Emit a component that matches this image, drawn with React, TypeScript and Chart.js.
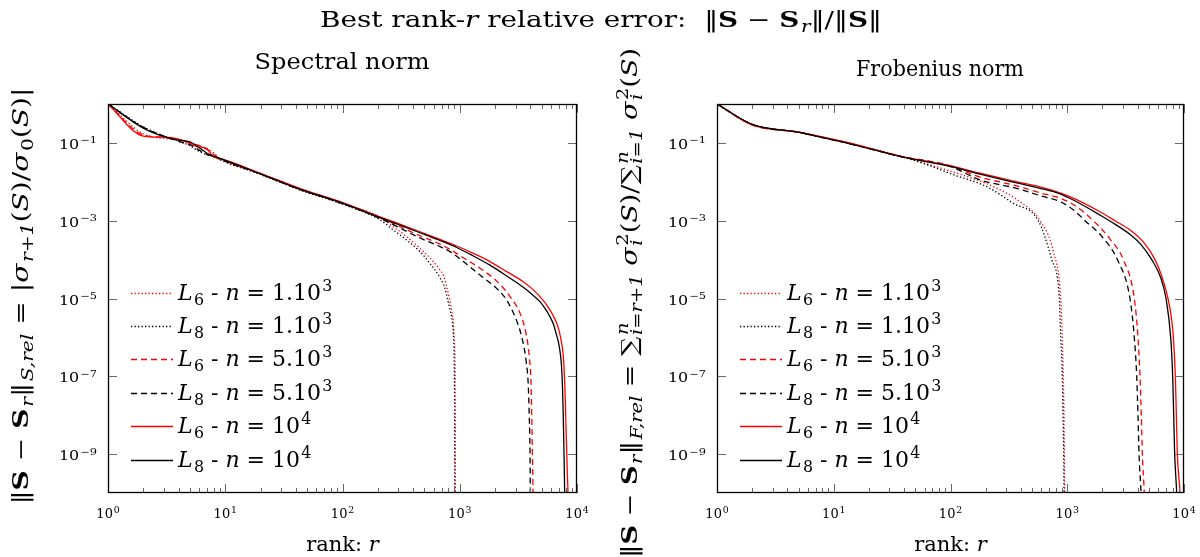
import React, { useEffect, useRef } from "react";
import { Chart, registerables } from "chart.js";
Chart.register(...registerables);

// ---------------- DATA ----------------
// Spectral norm panel
const specL6n1kRank = [1, 2, 3, 4, 5, 6, 7, 8, 9, 20, 43, 95, 209, 271, 352, 458, 595, 679, 724, 774, 815, 853, 881, 893, 906, 912, 914, 916, 918];
const specL6n1kErr = [1, 0.17, 0.13, 0.12, 0.1, 0.085, 0.07, 0.055, 0.04, 0.016, 0.0065, 2.9e-3, 1.23e-3, 7.0e-4, 3.9e-4, 1.95e-4, 8.9e-5, 5.4e-5, 4e-5, 2e-5, 1.02e-5, 5e-6, 2.5e-6, 1.27e-6, 4.8e-7, 1.2e-7, 9.1e-9, 1.2e-10, 1e-11];
const specL8n1kRank = [1, 2, 3, 4, 5, 6, 7, 8, 9, 20, 43, 95, 209, 271, 352, 458, 557, 679, 748, 826, 865, 881, 893, 899, 906, 908];
const specL8n1kErr = [1, 0.26, 0.15, 0.11, 0.085, 0.06, 0.05, 0.045, 0.037, 0.0155, 0.0062, 2.8e-3, 1.05e-3, 5.8e-4, 3.2e-4, 1.6e-4, 8e-5, 3.4e-5, 1.82e-5, 5e-6, 2.5e-6, 1.27e-6, 4.8e-7, 1.2e-7, 3.4e-9, 1e-11];
const specL6n5kRank = [1, 2, 3, 4, 5, 6, 7, 8, 9, 20, 43, 95, 209, 458, 679, 826, 1072, 1489, 2065, 2685, 3266, 3673, 3917, 4055, 4111, 4159, 4217, 4240];
const specL6n5kErr = [1, 0.16, 0.14, 0.12, 0.1, 0.085, 0.068, 0.05, 0.04, 0.0162, 0.0066, 3.0e-3, 1.2e-3, 4.1e-4, 2.5e-4, 1.83e-4, 1.12e-4, 6.0e-5, 2.8e-5, 1.12e-5, 4.2e-6, 1.27e-6, 3.2e-7, 6.6e-8, 9.1e-9, 1.28e-9, 9.8e-11, 1e-11];
const specL8n5kRank = [1, 2, 3, 4, 5, 6, 7, 8, 9, 20, 43, 95, 209, 458, 679, 826, 1072, 1489, 2065, 2512, 2958, 3373, 3673, 3846, 3917, 3972, 4000, 4020];
const specL8n5kErr = [1, 0.25, 0.15, 0.11, 0.09, 0.065, 0.05, 0.045, 0.038, 0.0158, 0.0064, 2.9e-3, 1.15e-3, 3.6e-4, 2.15e-4, 1.6e-4, 8.9e-5, 4e-5, 1.82e-5, 9.1e-6, 3.4e-6, 1.05e-6, 2.6e-7, 5.4e-8, 9.1e-9, 1.28e-9, 9.8e-11, 1e-11];
const specL6n10kRank = [1, 2, 3, 4, 5, 5.7, 6.9, 7.9, 9, 20, 43, 95, 209, 458, 679, 942, 1306, 1811, 2512, 3483, 4102, 4831, 5333, 5888, 6285, 6714, 7063, 7396, 7600, 7745, 7853, 7950, 8055, 8166, 8267, 8375, 8450];
const specL6n10kErr = [1, 0.15, 0.14, 0.125, 0.098, 0.08, 0.072, 0.044, 0.04, 0.0166, 0.0068, 3.1e-3, 1.26e-3, 5.2e-4, 3.3e-4, 2.24e-4, 1.45e-4, 8.9e-5, 4.9e-5, 2.7e-5, 1.82e-5, 1.12e-5, 7.8e-6, 5.0e-6, 3.55e-6, 2.3e-6, 1.4e-6, 7.1e-7, 3.9e-7, 1.8e-7, 6.6e-8, 2.45e-8, 5e-9, 1.28e-9, 3.2e-10, 9.8e-11, 1e-11];
const specL8n10kRank = [1, 2, 3, 4, 5, 6, 7.4, 9, 20, 43, 95, 209, 458, 679, 942, 1306, 1811, 2512, 3483, 4102, 4831, 5333, 5888, 6285, 6630, 6970, 7200, 7380, 7520, 7600, 7690, 7770, 7850, 7920];
const specL8n10kErr = [1, 0.24, 0.145, 0.118, 0.107, 0.075, 0.049, 0.04, 0.016, 0.0065, 3.0e-3, 1.2e-3, 4.9e-4, 3.1e-4, 2.05e-4, 1.24e-4, 7.2e-5, 3.8e-5, 1.94e-5, 1.3e-5, 8.3e-6, 5.6e-6, 3.4e-6, 2.2e-6, 1.27e-6, 7.1e-7, 3.9e-7, 1.8e-7, 5.4e-8, 1.65e-8, 3.4e-9, 7e-10, 9.8e-11, 1e-11];

// Frobenius norm panel
const frobL6n1kRank = [1, 2, 5.14, 7.6, 13.8, 36.9, 60, 120, 233, 394, 585, 760, 879, 907, 925, 938, 944, 951, 960];
const frobL6n1kErr = [1, 0.29, 0.187, 0.145, 0.098, 0.046, 0.03, 0.0158, 7.5e-3, 3.1e-3, 1e-3, 1.6e-4, 1e-5, 1e-6, 1e-7, 1e-8, 1e-9, 1e-10, 1e-11];
const frobL8n1kRank = [1, 2, 5.14, 7.6, 13.8, 36.9, 60, 106, 204, 345, 565, 736, 855, 879, 907, 920, 933, 938, 945];
const frobL8n1kErr = [1, 0.3, 0.185, 0.142, 0.095, 0.045, 0.029, 0.0152, 7.5e-3, 2.8e-3, 1e-3, 1e-4, 1e-5, 1e-6, 1e-7, 1e-8, 1e-9, 1e-10, 1e-11];
const frobL6n5kRank = [1, 2, 5.14, 7.6, 13.8, 36.9, 99, 179, 369, 585, 867, 1127, 1672, 2300, 3020, 3753, 4035, 4200, 4310, 4400, 4570, 4700];
const frobL6n5kErr = [1, 0.29, 0.187, 0.145, 0.097, 0.046, 0.026, 0.0132, 7.9e-3, 5.2e-3, 3.8e-3, 2.6e-3, 1e-3, 3.5e-4, 1e-4, 1e-5, 1e-6, 1e-7, 1e-8, 1e-9, 1e-10, 1e-11];
const frobL8n5kRank = [1, 2, 5.14, 7.6, 13.8, 36.9, 99, 179, 369, 585, 867, 1127, 1420, 2000, 2685, 3445, 3753, 3935, 4035, 4120, 4285, 4400];
const frobL8n5kErr = [1, 0.3, 0.185, 0.142, 0.095, 0.045, 0.025, 0.0112, 6.8e-3, 4.4e-3, 3.1e-3, 1.9e-3, 1e-3, 3.8e-4, 1e-4, 1e-5, 1e-6, 1e-7, 1e-8, 1e-9, 1e-10, 1e-11];
const frobL6n10kRank = [1, 2, 5.14, 7.6, 13.8, 36.9, 99, 179, 369, 585, 867, 1127, 1905, 2565, 3500, 4500, 5650, 6500, 7295, 7800, 8110, 8430, 8600, 8770, 9240, 9500];
const frobL6n10kErr = [1, 0.29, 0.187, 0.146, 0.098, 0.046, 0.026, 0.0166, 0.01, 7.4e-3, 5.2e-3, 3.8e-3, 1.7e-3, 1e-3, 5.6e-4, 2.8e-4, 1e-4, 3.5e-5, 1e-5, 3.2e-6, 1e-6, 1e-7, 1e-8, 1e-9, 1e-10, 1e-11];
const frobL8n10kRank = [1, 2, 5.14, 7.6, 13.8, 36.9, 99, 179, 369, 585, 867, 1127, 1905, 2355, 3500, 4300, 5290, 6300, 7015, 7690, 8000, 8160, 8320, 8660, 8900];
const frobL8n10kErr = [1, 0.3, 0.185, 0.142, 0.095, 0.045, 0.025, 0.0158, 9.4e-3, 6.8e-3, 4.9e-3, 3.4e-3, 1.4e-3, 9.5e-4, 4.3e-4, 2.4e-4, 1e-4, 3.5e-5, 1e-5, 1e-6, 1e-7, 1e-8, 1e-9, 1e-10, 1e-11];

// Axes / ticks / legend labels
const xMajorTicks = [1, 10, 100, 1000, 10000];
const xTickExps = ["0", "1", "2", "3", "4"];
const yMajorTicks = [1e-1, 1e-3, 1e-5, 1e-7, 1e-9];
const yTickExps = ["−1", "−3", "−5", "−7", "−9"];
const legendL = ["6", "8", "6", "8", "6", "8"];
const legendN = ["1.10", "1.10", "5.10", "5.10", "10", "10"];
const legendExp = ["3", "3", "3", "3", "4", "4"];

// ---------------- rich text helpers ----------------
type Seg = { t: string; f?: "r" | "i" | "b"; sub?: string; sup?: string; subF?: "r" | "i"; supF?: "r" | "i" };
const FAMILY = '"DejaVu Serif", "Liberation Serif", serif';
const SCRIPT = 0.72;
function fnt(f: string | undefined, size: number) {
  return `${f === "i" ? "italic " : ""}${f === "b" ? "bold " : ""}${size}px ${FAMILY}`;
}
function richWidth(ctx: CanvasRenderingContext2D, segs: Seg[], size: number) {
  let w = 0;
  for (const s of segs) {
    ctx.font = fnt(s.f, size);
    w += ctx.measureText(s.t).width;
    let sw = 0;
    if (s.sub) { ctx.font = fnt(s.subF ?? "i", size * SCRIPT); sw = Math.max(sw, ctx.measureText(s.sub).width); }
    if (s.sup) { ctx.font = fnt(s.supF ?? "r", size * SCRIPT); sw = Math.max(sw, ctx.measureText(s.sup).width); }
    if (sw) w += sw + size * 0.06;
  }
  return w;
}
function drawRich(
  ctx: CanvasRenderingContext2D,
  segs: Seg[],
  x: number,
  y: number,
  size: number,
  align: "left" | "center" | "right",
  target?: number
) {
  const w = richWidth(ctx, segs, size);
  const sx = target ? target / w : 1;
  const W = w * sx;
  const start = align === "left" ? x : align === "center" ? x - W / 2 : x - W;
  ctx.save();
  ctx.translate(start, y);
  ctx.scale(sx, 1);
  ctx.fillStyle = "#000";
  ctx.textAlign = "left";
  ctx.textBaseline = "alphabetic";
  let cx = 0;
  for (const s of segs) {
    ctx.font = fnt(s.f, size);
    ctx.fillText(s.t, cx, 0);
    cx += ctx.measureText(s.t).width;
    let sw = 0;
    const off = size * 0.06;
    if (s.sub) {
      ctx.font = fnt(s.subF ?? "i", size * SCRIPT);
      ctx.fillText(s.sub, cx + off, size * 0.24);
      sw = Math.max(sw, ctx.measureText(s.sub).width);
    }
    if (s.sup) {
      ctx.font = fnt(s.supF ?? "r", size * SCRIPT);
      ctx.fillText(s.sup, cx + off, -size * 0.42);
      sw = Math.max(sw, ctx.measureText(s.sup).width);
    }
    if (sw) cx += sw + off;
  }
  ctx.restore();
}

const titleSegs: Seg[] = [
  { t: "Best rank-" }, { t: "r", f: "i" }, { t: " relative error:  ‖" }, { t: "S", f: "b" }, { t: " − " },
  { t: "S", f: "b", sub: "r" }, { t: "‖/‖" }, { t: "S", f: "b" }, { t: "‖" },
];
const specYTitle: Seg[] = [
  { t: "‖" }, { t: "S", f: "b" }, { t: " − " }, { t: "S", f: "b", sub: "r" }, { t: "‖", sub: "S,rel" },
  { t: " = |" }, { t: "σ", f: "i", sub: "r+1" }, { t: "(" }, { t: "S", f: "i" }, { t: ")/" },
  { t: "σ", f: "i", sub: "0", subF: "r" }, { t: "(" }, { t: "S", f: "i" }, { t: ")|" },
];
const frobYTitle: Seg[] = [
  { t: "‖" }, { t: "S", f: "b" }, { t: " − " }, { t: "S", f: "b", sub: "r" }, { t: "‖", sub: "F,rel" },
  { t: " = " }, { t: "∑", sub: "i=r+1", sup: "n", supF: "i" }, { t: " " }, { t: "σ", f: "i", sub: "i", sup: "2" },
  { t: "(" }, { t: "S", f: "i" }, { t: ")/" }, { t: "∑", sub: "i=1", sup: "n", supF: "i" }, { t: " " },
  { t: "σ", f: "i", sub: "i", sup: "2" }, { t: "(" }, { t: "S", f: "i" }, { t: ")" },
];
const xTitle: Seg[] = [{ t: "rank: " }, { t: "r", f: "i" }];

type Series = { r: number[]; y: number[]; color: string; dash: number[]; width: number };
const RED = "#ff0000";
const BLACK = "#000000";
const DOT = [1.3, 2.2];
const DASH = [6, 4];

function seriesFor(panel: "spec" | "frob"): Series[] {
  if (panel === "spec")
    return [
      { r: specL6n1kRank, y: specL6n1kErr, color: RED, dash: DOT, width: 1.3 },
      { r: specL8n1kRank, y: specL8n1kErr, color: BLACK, dash: DOT, width: 1.3 },
      { r: specL6n5kRank, y: specL6n5kErr, color: RED, dash: DASH, width: 1.3 },
      { r: specL8n5kRank, y: specL8n5kErr, color: BLACK, dash: DASH, width: 1.3 },
      { r: specL6n10kRank, y: specL6n10kErr, color: RED, dash: [], width: 1.3 },
      { r: specL8n10kRank, y: specL8n10kErr, color: BLACK, dash: [], width: 1.3 },
    ];
  return [
    { r: frobL6n1kRank, y: frobL6n1kErr, color: RED, dash: DOT, width: 1.3 },
    { r: frobL8n1kRank, y: frobL8n1kErr, color: BLACK, dash: DOT, width: 1.3 },
    { r: frobL6n5kRank, y: frobL6n5kErr, color: RED, dash: DASH, width: 1.3 },
    { r: frobL8n5kRank, y: frobL8n5kErr, color: BLACK, dash: DASH, width: 1.3 },
    { r: frobL6n10kRank, y: frobL6n10kErr, color: RED, dash: [], width: 1.3 },
    { r: frobL8n10kRank, y: frobL8n10kErr, color: BLACK, dash: [], width: 1.3 },
  ];
}

function makeChart(canvas: HTMLCanvasElement, panel: "spec" | "frob") {
  const series = seriesFor(panel);
  const pad = panel === "spec" ? { left: 108, right: 623, top: 104, bottom: 64 } : { left: 717, right: 16, top: 104, bottom: 64 };
  const decor = {
    id: "decor" + panel,
    afterDraw(chart: any) {
      const ctx: CanvasRenderingContext2D = chart.ctx;
      const a = chart.chartArea;
      const xs = chart.scales.x;
      const ys = chart.scales.y;
      ctx.save();
      ctx.setLineDash([]);
      // ticks
      ctx.strokeStyle = "#6a6a6a";
      ctx.lineWidth = 1;
      ctx.beginPath();
      for (let d = 0; d < 4; d++) {
        for (let m = 2; m <= 9; m++) {
          const px = Math.round(xs.getPixelForValue(m * Math.pow(10, d))) + 0.5;
          ctx.moveTo(px, a.bottom); ctx.lineTo(px, a.bottom - 5);
          ctx.moveTo(px, a.top); ctx.lineTo(px, a.top + 5);
        }
      }
      for (const v of xMajorTicks) {
        const px = Math.round(xs.getPixelForValue(v)) + 0.5;
        ctx.moveTo(px, a.bottom); ctx.lineTo(px, a.bottom - 9);
        ctx.moveTo(px, a.top); ctx.lineTo(px, a.top + 9);
      }
      for (const v of yMajorTicks) {
        const py = Math.round(ys.getPixelForValue(v)) + 0.5;
        ctx.moveTo(a.left, py); ctx.lineTo(a.left + 9, py);
        ctx.moveTo(a.right, py); ctx.lineTo(a.right - 9, py);
      }
      ctx.stroke();
      // frame
      ctx.strokeStyle = "#000";
      ctx.lineWidth = 1.3;
      ctx.strokeRect(a.left + 0.5, a.top + 0.5, a.right - a.left - 1, a.bottom - a.top - 1);
      // tick labels
      xMajorTicks.forEach((v, i) => {
        drawRich(ctx, [{ t: "10", sup: xTickExps[i] }], xs.getPixelForValue(v), a.bottom + 25, 13, "center");
      });
      yMajorTicks.forEach((v, i) => {
        drawRich(ctx, [{ t: "10", sup: yTickExps[i] }], a.left - 11, ys.getPixelForValue(v) + 6, 13, "right", 38);
      });
      // axis titles
      const cxArea = (a.left + a.right) / 2;
      drawRich(ctx, xTitle, cxArea, 551, 21, "center");
      ctx.save();
      if (panel === "spec") ctx.translate(28, 296);
      else ctx.translate(637, 303);
      ctx.rotate(-Math.PI / 2);
      if (panel === "spec") drawRich(ctx, specYTitle, 0, 0, 22, "center", 417);
      else drawRich(ctx, frobYTitle, 0, 0, 22, "center", 510);
      ctx.restore();
      // subplot titles
      if (panel === "spec") drawRich(ctx, [{ t: "Spectral norm" }], 342, 69, 22, "center", 175);
      else drawRich(ctx, [{ t: "Frobenius norm" }], 940, 76, 22, "center", 168);
      if (panel === "spec") drawRich(ctx, titleSegs, 601, 27, 22, "center", 562);
      // legend
      const legY = [293, 326, 359, 393, 426, 460];
      series.forEach((s, i) => {
        const y = legY[i];
        ctx.save();
        ctx.strokeStyle = s.color;
        ctx.lineWidth = s.width;
        ctx.setLineDash(s.dash);
        ctx.beginPath();
        ctx.moveTo(a.left + 23, y + 0.5);
        ctx.lineTo(a.left + 65, y + 0.5);
        ctx.stroke();
        ctx.restore();
        drawRich(
          ctx,
          [{ t: "L", f: "i", sub: legendL[i], subF: "r" }, { t: " - " }, { t: "n", f: "i" }, { t: " = " + legendN[i], sup: legendExp[i] }],
          a.left + 70,
          y + 7,
          22,
          "left"
        );
      });
      ctx.restore();
    },
  };
  const datasets = series
    .map((s) => ({
      data: s.r.map((r, i) => ({ x: r, y: s.y[i] })),
      borderColor: s.color,
      backgroundColor: s.color,
      borderWidth: s.width,
      borderDash: s.dash,
      pointRadius: 0,
      fill: false,
      cubicInterpolationMode: "monotone",
    }))
    .reverse();
  return new Chart(canvas, {
    type: "line",
    data: { datasets },
    options: {
      responsive: false,
      animation: false,
      devicePixelRatio: 1,
      events: [],
      layout: { padding: pad },
      scales: {
        x: { type: "logarithmic", min: 1, max: 10000, display: false },
        y: { type: "logarithmic", min: 1e-10, max: 1, display: false },
      },
      plugins: { legend: { display: false }, tooltip: { enabled: false }, title: { display: false } },
    } as any,
    plugins: [decor],
  });
}

export default function App() {
  const c1 = useRef<HTMLCanvasElement>(null);
  const c2 = useRef<HTMLCanvasElement>(null);
  useEffect(() => {
    const ch1 = makeChart(c1.current!, "spec");
    const ch2 = makeChart(c2.current!, "frob");
    return () => {
      ch1.destroy();
      ch2.destroy();
    };
  }, []);
  const st: React.CSSProperties = { position: "absolute", left: 0, top: 0, width: 1200, height: 557 };
  return (
    <div style={{ position: "fixed", left: 0, top: 0, width: 1200, height: 557, background: "#fff" }}>
      <canvas ref={c1} width={1200} height={557} style={st} />
      <canvas ref={c2} width={1200} height={557} style={st} />
    </div>
  );
}
